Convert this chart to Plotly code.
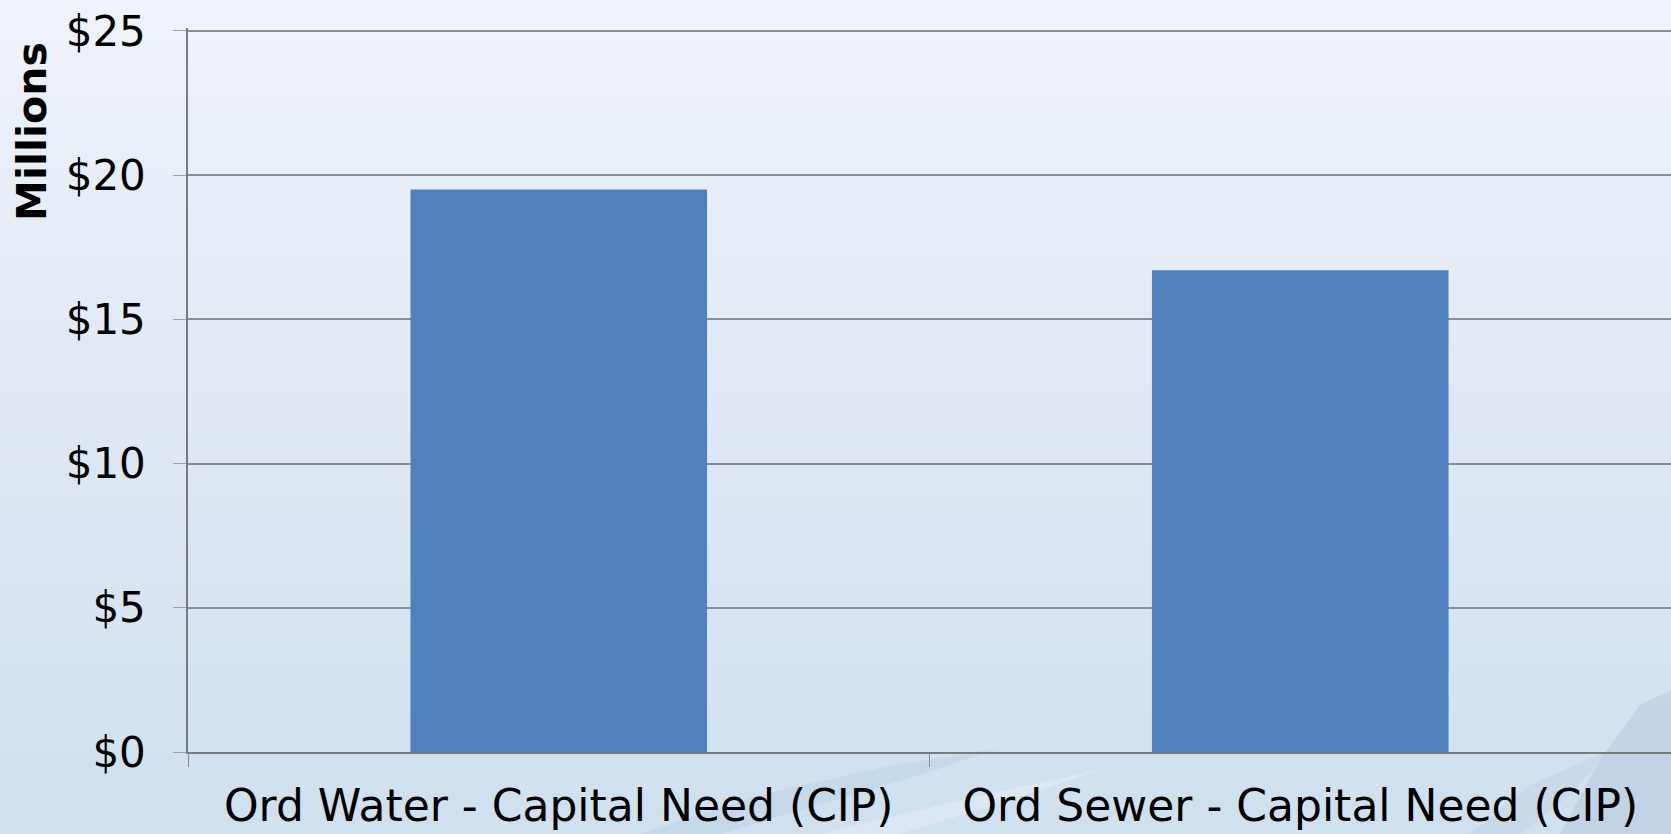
import plotly.graph_objects as go

categories = ["Ord Water - Capital Need (CIP)", "Ord Sewer - Capital Need (CIP)"]
values = [19.5, 16.7]
tick_vals = [0, 5, 10, 15, 20, 25]
tick_text = ["$0", "$5", "$10", "$15", "$20", "$25"]

W, H = 1671, 834
YMAX = 25.1
# plot area: x from 188 to 1672, y(0)=752, y(25)=31
L, R = 188, 0
plot_h = (752 - 31) * YMAX / 25.0
T = 752 - plot_h
B = H - 752

fig = go.Figure()
fig.add_trace(go.Bar(
    x=categories, y=values,
    marker=dict(color="#4f81bd", line=dict(width=0)),
    width=0.4,
))

pw = W - L - R
ph = H - T - B
def px(x):
    return (x - L) / pw
def py(y):
    return (H - B - y) / ph

def lerp(c1, c2, t):
    return "rgb(%d,%d,%d)" % tuple(round(a + (b - a) * t) for a, b in zip(c1, c2))

shapes = []
stops = [(0, (239, 243, 250)), (0.5, (223, 232, 243)), (1.0, (207, 224, 238))]
n = 60
for i in range(n):
    y0p, y1p = i * H / n, (i + 1) * H / n
    t = (i + 0.5) / n
    for (a, ca), (b, cb) in zip(stops[:-1], stops[1:]):
        if a <= t <= b:
            col = lerp(ca, cb, (t - a) / (b - a))
    shapes.append(dict(type="rect", xref="paper", yref="paper",
                       x0=px(0), x1=px(W + 2), y0=py(y1p + 1), y1=py(y0p),
                       fillcolor=col, line=dict(width=0), layer="below"))

# subtle water splash decorations near the bottom
def path(points):
    s = "M %f %f" % (px(points[0][0]), py(points[0][1]))
    for x, y in points[1:]:
        s += " L %f %f" % (px(x), py(y))
    return s + " Z"

splashes = [
    ([(640, 834), (760, 795), (880, 768), (1000, 748), (920, 775), (800, 810), (720, 834)],
     "rgba(160,190,212,0.22)"),
    ([(820, 834), (960, 800), (1100, 770), (1010, 800), (900, 834)],
     "rgba(240,246,252,0.35)"),
    ([(1560, 834), (1600, 760), (1640, 705), (1671, 690), (1671, 834)],
     "rgba(150,170,200,0.25)"),
    ([(1470, 834), (1530, 785), (1610, 750), (1570, 795), (1520, 834)],
     "rgba(175,195,215,0.25)"),
]
for pts, c in splashes:
    shapes.append(dict(type="path", xref="paper", yref="paper", path=path(pts),
                       fillcolor=c, line=dict(width=0), layer="below"))

fig.update_layout(
    width=W, height=H,
    margin=dict(l=L, r=R, t=T, b=B, pad=0),
    paper_bgcolor="#e4ecf6",
    plot_bgcolor="rgba(0,0,0,0)",
    showlegend=False,
    bargap=0.6,
    font=dict(family="DejaVu Sans, Verdana, sans-serif", color="#000000"),
    shapes=shapes,
    xaxis=dict(
        showgrid=False, showline=True, linecolor="#7a7a7a", linewidth=1.5,
        ticks="outside", tickson="boundaries", ticklen=13, tickcolor="#8a8a8a",
        tickfont=dict(size=44), ticklabelstandoff=14,
    ),
    yaxis=dict(
        range=[0, YMAX], tickvals=tick_vals, ticktext=tick_text,
        showgrid=True, gridcolor="#8c8c8c", gridwidth=1.5,
        showline=True, linecolor="#7a7a7a", linewidth=1.5,
        ticks="outside", ticklen=13, tickcolor="#a0a0a0",
        tickfont=dict(size=42), ticklabelstandoff=19,
        zeroline=False,
    ),
    annotations=[dict(
        text="<b>Millions</b>", textangle=-90, xref="paper", yref="paper",
        x=px(32), y=py(132),
        xanchor="center", yanchor="middle", showarrow=False,
        font=dict(size=41, color="#000000"),
    )],
)

fig.write_html("out.html", config={"displayModeBar": False},
               post_script="document.body.style.margin='0';document.body.style.overflow='hidden';")
